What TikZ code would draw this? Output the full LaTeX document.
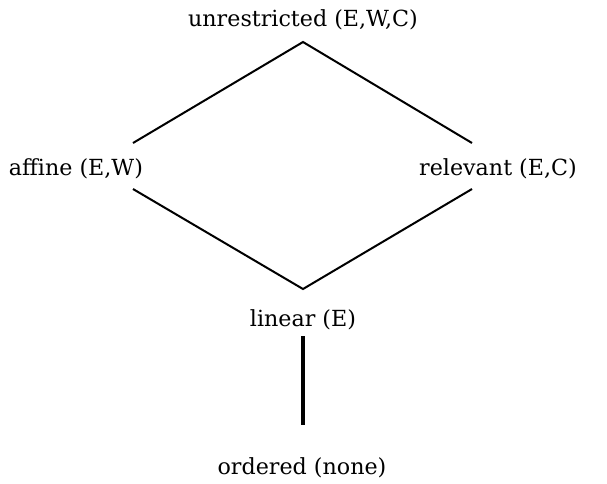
\documentclass[tikz,border=0pt]{standalone}
\usepackage{fontspec}
\setmainfont{DejaVu Serif}
\begin{document}
\begin{tikzpicture}[x=1pt,y=-1pt,
  lbl/.style={font=\fontsize{22.2}{26}\selectfont, inner sep=0pt, anchor=center},
  edge/.style={line width=2pt},
  thick edge/.style={line width=3.6pt}]
\useasboundingbox (0,0) rectangle (607,483);
\node[lbl] (u) at (303,20) {unrestricted (E,W,C)};
\node[lbl] (a) at (76,169) {affine (E,W)};
\node[lbl] (r) at (498,169) {relevant (E,C)};
\node[lbl] (l) at (303,320) {linear (E)};
\node[lbl] (o) at (302,468) {ordered (none)};
\coordinate (top) at (303,42);
\coordinate (al) at (133,143);
\coordinate (ar) at (472,143);
\coordinate (bl) at (133,189);
\coordinate (br) at (472,189);
\coordinate (bot) at (303,289);
\coordinate (v1) at (303,336);
\coordinate (v2) at (303,425);
\draw[edge] (al) -- (top) -- (ar);
\draw[edge] (bl) -- (bot) -- (br);
\draw[thick edge] (v1) -- (v2);
\end{tikzpicture}
\end{document}
